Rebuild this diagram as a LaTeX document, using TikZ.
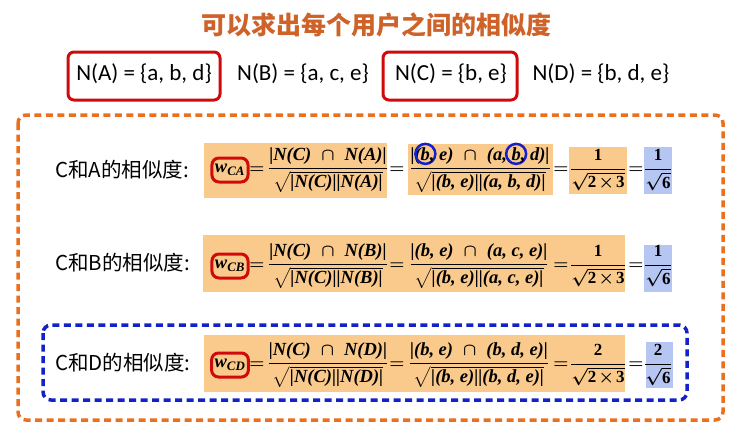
\documentclass[tikz,border=0pt]{standalone}
\usepackage{amsmath}
\usepackage{fontspec}
\newfontfamily\cjk{Noto Sans CJK SC}
\newfontfamily\carl{Carlito}
\newfontfamily\lserif{Liberation Serif}
\definecolor{titlec}{RGB}{206,98,40}
\definecolor{redc}{RGB}{208,10,10}
\definecolor{odash}{RGB}{234,112,30}
\definecolor{bdash}{RGB}{18,34,200}
\definecolor{ofillc}{RGB}{250,202,140}
\definecolor{bfillc}{RGB}{182,198,242}
\newcommand\bi[1]{\text{\lserif\bfseries\itshape #1}}
\newcommand\bu[1]{\text{\lserif\bfseries #1}}
\newcommand\tms{\mkern2mu{\times}\mkern2mu}
\newcommand\cb{\tikz[baseline=(bx.base)]{\node[inner sep=0pt](bx){\lserif\bfseries\itshape b};\draw[overlay,bdash,line width=2.5pt] (bx.center) circle[radius=10pt];}}
\begin{document}
\begin{tikzpicture}[x=1pt,y=-1pt,
  redbox/.style={draw=redc,line width=3pt,rounded corners=6pt},
  nset/.style={font=\carl\fontsize{23}{26}\selectfont,inner sep=0pt},
  lbl/.style={font=\cjk\fontsize{20.5}{24}\selectfont,anchor=west,inner sep=0pt},
  mth/.style={font=\fontsize{18.5}{22}\selectfont\boldmath,inner sep=0pt},
  smth/.style={font=\fontsize{17}{20}\selectfont\boldmath,inner sep=0pt},
  wbox/.style={font=\fontsize{18.5}{22}\selectfont\boldmath,draw=redc,line width=3pt,rounded corners=7pt,inner xsep=3pt,inner ysep=3pt,minimum height=24pt},
  odashed/.style={draw=odash,line width=3.5pt,dash pattern=on 7pt off 4.5pt,rounded corners=8pt},
  bdashed/.style={draw=bdash,line width=3.5pt,dash pattern=on 7pt off 4.5pt,rounded corners=8pt}]
\useasboundingbox (0,0) rectangle (734,431);
% title
\node[font=\cjk\bfseries\fontsize{25}{28}\selectfont,text=titlec,inner sep=0pt] (title) at (376.5,25) {可以求出每个用户之间的相似度};
% sets
\node[nset] (na) at (144,74) {N(A) = \{a, b, d\}};
\node[nset] (nb) at (303,74) {N(B) = \{a, c, e\}};
\node[nset] (nc) at (451,74) {N(C) = \{b, e\}};
\node[nset] (nd) at (601,74) {N(D) = \{b, d, e\}};
\draw[redbox] (68,52) rectangle (220,100);
\draw[redbox] (383,52) rectangle (517,100);
% outer boxes
\draw[odashed] (18,115) rectangle (723,420);
\draw[bdashed] (43,325) rectangle (687,400);
% fills
\fill[ofillc] (204,143) rectangle (387,198);
\fill[ofillc] (408,144) rectangle (553,195);
\fill[ofillc] (569,147) rectangle (627,194);
\fill[bfillc] (644,147) rectangle (672,194);
\fill[ofillc] (203,235) rectangle (625,292);
\fill[bfillc] (644,245) rectangle (672,292);
\fill[ofillc] (204,335) rectangle (625,392);
\fill[bfillc] (646,342) rectangle (673,388);
% row 1
\node[lbl] (l1) at (55,170) {C和A的相似度:};
\node[wbox] (w1) at (230,170) {$\bi{w}_{\bi{CA}}$};
\node[mth] (e11) at (257,170) {$=$};
\node[mth] (f11) at (328,170) {$\dfrac{\bi{|N(C)}\ \cap\ \bi{N(A)|}}{\sqrt{\bi{|N(C)||N(A)|}}}$};
\node[mth] (e12) at (397,170) {$=$};
\node[mth] (f12) at (480,170) {$\dfrac{\bi{|(}\cb\bi{, e)}\ \cap\ \bi{(a, }\cb\bi{, d)|}}{\sqrt{\bi{|(b, e)||(a, b, d)|}}}$};
\node[mth] (e13) at (561,170) {$=$};
\node[smth] (f13) at (598,170) {$\dfrac{\bu{1}}{\sqrt{\bu{2}\tms\bu{3}}}$};
\node[mth] (e14) at (636,170) {$=$};
\node[smth] (f14) at (658,170) {$\dfrac{\bu{1}}{\sqrt{\bu{6}}}$};
% row 2
\node[lbl] (l2) at (55,263) {C和B的相似度:};
\node[wbox] (w2) at (230,266) {$\bi{w}_{\bi{CB}}$};
\node[mth] (e21) at (257,266) {$=$};
\node[mth] (f21) at (328,266) {$\dfrac{\bi{|N(C)}\ \cap\ \bi{N(B)|}}{\sqrt{\bi{|N(C)||N(B)|}}}$};
\node[mth] (e22) at (397,266) {$=$};
\node[mth] (f22) at (479,266) {$\dfrac{\bi{|(b, e)}\ \cap\ \bi{(a, c, e)|}}{\sqrt{\bi{|(b, e)||(a, c, e)|}}}$};
\node[mth] (e23) at (561,266) {$=$};
\node[smth] (f23) at (598,266) {$\dfrac{\bu{1}}{\sqrt{\bu{2}\tms\bu{3}}}$};
\node[mth] (e24) at (636,266) {$=$};
\node[smth] (f24) at (658,266) {$\dfrac{\bu{1}}{\sqrt{\bu{6}}}$};
% row 3
\node[lbl] (l3) at (55,363) {C和D的相似度:};
\node[wbox] (w3) at (230,365) {$\bi{w}_{\bi{CD}}$};
\node[mth] (e31) at (257,365) {$=$};
\node[mth] (f31) at (328,365) {$\dfrac{\bi{|N(C)}\ \cap\ \bi{N(D)|}}{\sqrt{\bi{|N(C)||N(D)|}}}$};
\node[mth] (e32) at (397,365) {$=$};
\node[mth] (f32) at (479,365) {$\dfrac{\bi{|(b, e)}\ \cap\ \bi{(b, d, e)|}}{\sqrt{\bi{|(b, e)||(b, d, e)|}}}$};
\node[mth] (e33) at (561,365) {$=$};
\node[smth] (f33) at (598,365) {$\dfrac{\bu{2}}{\sqrt{\bu{2}\tms\bu{3}}}$};
\node[mth] (e34) at (636,365) {$=$};
\node[smth] (f34) at (658,365) {$\dfrac{\bu{2}}{\sqrt{\bu{6}}}$};
\end{tikzpicture}
\end{document}
